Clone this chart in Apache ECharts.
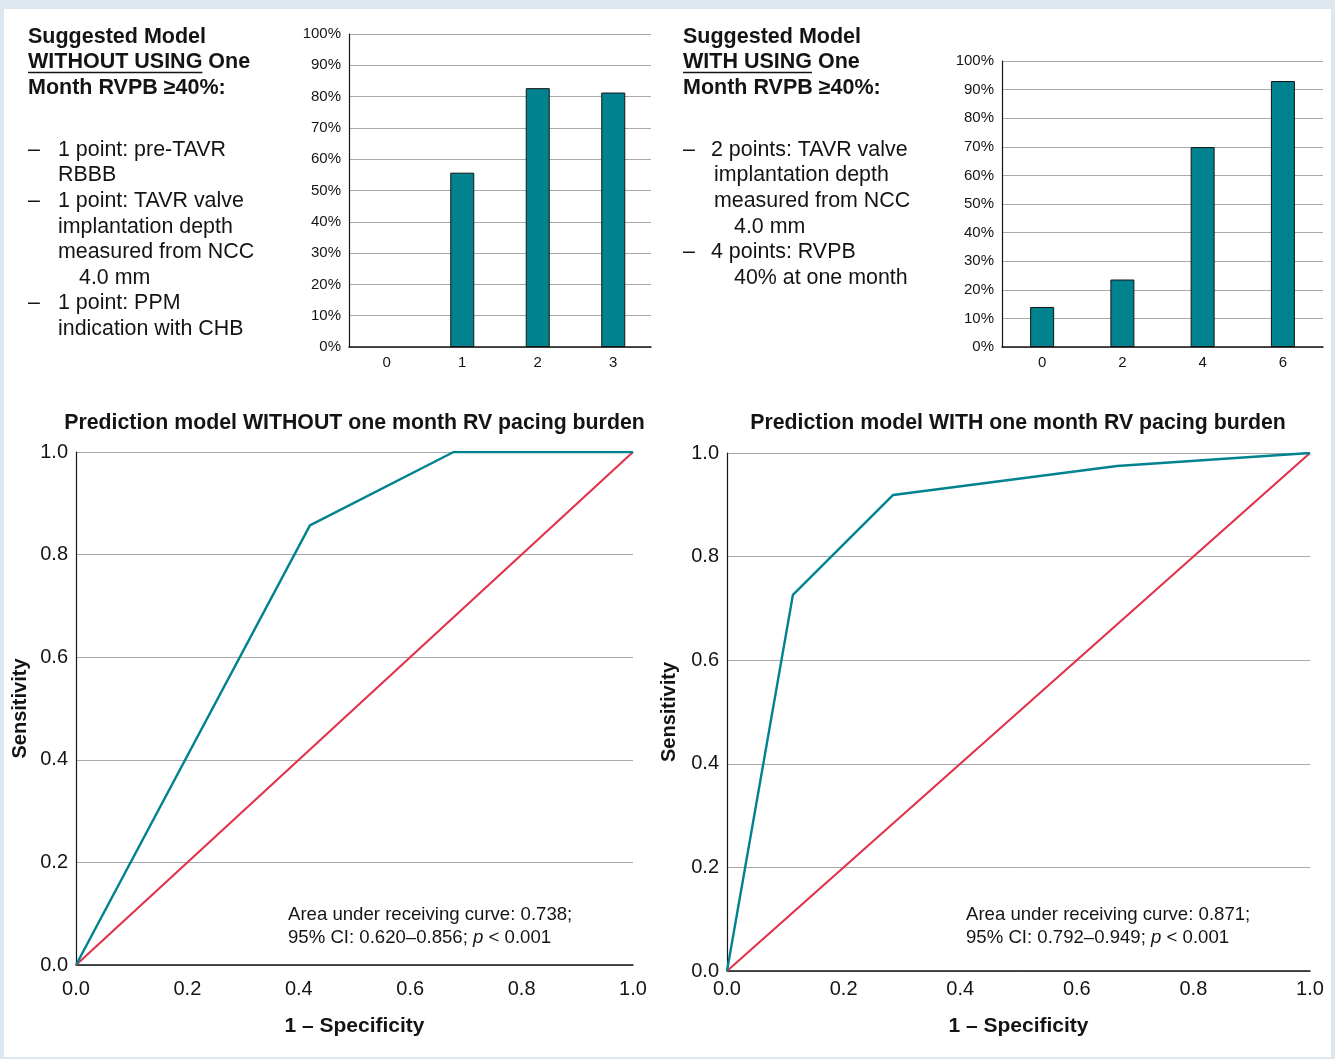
<!DOCTYPE html>
<html>
<head>
<meta charset="utf-8">
<script src="https://cdn.jsdelivr.net/npm/echarts@6/dist/echarts.min.js"></script>
<style>
html, body { margin: 0; padding: 0; background: #dde7f0; }
#panel { position: absolute; left: 4px; top: 9px; width: 1327px; height: 1048px; background: #fff; }
#main { position: absolute; left: 0; top: 0; width: 1335px; height: 1059px; }
</style>
</head>
<body>
<div id="panel"></div>
<div id="main"></div>
<script>
// score groups and share of patients with the outcome (%)
var scoreCats1 = ['0', '1', '2', '3'];
var riskPct1 = [0, 55.7, 82.7, 81.3];
var scoreCats2 = ['0', '2', '4', '6'];
var riskPct2 = [14.0, 23.6, 69.9, 93.0];

// ROC curves, [1 - specificity, sensitivity]
var rocWithout = [[0, 0], [0.42, 0.857], [0.678, 1], [1, 1]];
var rocWith = [[0, 0], [0.113, 0.726], [0.285, 0.919], [0.669, 0.975], [1, 1]];
var refLine = [[0, 0], [1, 1]];

var leftTitle = ['Suggested Model', 'WITHOUT USING', ' One', 'Month RVPB \u226540%:'];
var rightTitle = ['Suggested Model', 'WITH USING', ' One', 'Month RVPB \u226540%:'];

var FONT = '"Liberation Sans", Arial, sans-serif';
var INK = '#141414';
var TEAL = '#00838f';
var RED = '#e1344c';

var ctx = document.createElement('canvas').getContext('2d');
function textW(s, font) { ctx.font = font; return ctx.measureText(s).width; }

function txt(x, y, s, font, align) {
  return {
    type: 'text', x: x, y: y, z: 10,
    style: { text: s, font: font, fill: INK, align: align || 'left', verticalAlign: 'middle' }
  };
}

var boldF = 'bold 21.5px ' + FONT;
var regF = '21.4px ' + FONT;
var titleF = 'bold 21.3px ' + FONT;

function headerBlock(x, t) {
  var w = textW(t[1], boldF);
  return [
    txt(x, 37, t[0], boldF),
    txt(x, 62.5, t[1], boldF),
    txt(x + w, 62.5, t[2], boldF),
    txt(x, 88, t[3], boldF),
    { type: 'line', z: 10, shape: { x1: x, y1: 72.5, x2: x + w, y2: 72.5 }, style: { stroke: INK, lineWidth: 1.6 } }
  ];
}

var lh = 25.55;
var graphics = [].concat(
  headerBlock(28, leftTitle),
  headerBlock(683, rightTitle),
  [
    txt(28, 150, '\u2013', regF), txt(58, 150, '1 point: pre-TAVR', regF),
    txt(58, 150 + lh, 'RBBB', regF),
    txt(28, 150 + lh * 2, '\u2013', regF), txt(58, 150 + lh * 2, '1 point: TAVR valve', regF),
    txt(58, 150 + lh * 3, 'implantation depth', regF),
    txt(58, 150 + lh * 4, 'measured from NCC', regF),
    txt(79, 150 + lh * 5, '4.0 mm', regF),
    txt(28, 150 + lh * 6, '\u2013', regF), txt(58, 150 + lh * 6, '1 point: PPM', regF),
    txt(58, 150 + lh * 7, 'indication with CHB', regF),

    txt(683, 150, '\u2013', regF), txt(711, 150, '2 points: TAVR valve', regF),
    txt(714, 150 + lh, 'implantation depth', regF),
    txt(714, 150 + lh * 2, 'measured from NCC', regF),
    txt(734, 150 + lh * 3, '4.0 mm', regF),
    txt(683, 150 + lh * 4, '\u2013', regF), txt(711, 150 + lh * 4, '4 points: RVPB', regF),
    txt(734, 150 + lh * 5, '40% at one month', regF),

    txt(354.5, 423, 'Prediction model WITHOUT one month RV pacing burden', titleF, 'center'),
    txt(1018, 423, 'Prediction model WITH one month RV pacing burden', titleF, 'center')
  ]
);

function aucText(x, auc, ci) {
  var f = '18.6px ' + FONT;
  return [
    txt(x, 915, 'Area under receiving curve: ' + auc + ';', f),
    {
      type: 'text', x: x, y: 938, z: 10,
      style: {
        text: '{n|95% CI: ' + ci + '; }{i|p}{n| < 0.001}',
        verticalAlign: 'middle',
        rich: {
          n: { font: f, fill: INK },
          i: { font: 'italic ' + f, fill: INK }
        }
      }
    }
  ];
}
graphics = graphics.concat(aucText(288, '0.738', '0.620\u20130.856'), aucText(966, '0.871', '0.792\u20130.949'));

var grey = '#a9a9a9';

function barX(idx, cats) {
  return {
    type: 'category', gridIndex: idx, data: cats,
    axisLine: { lineStyle: { color: INK, width: 1.5 } },
    axisTick: { show: false },
    axisLabel: { color: INK, fontSize: 15, fontFamily: FONT, margin: 8 }
  };
}
function barY(idx) {
  return {
    type: 'value', gridIndex: idx, min: 0, max: 100, interval: 10,
    axisLine: { show: true, lineStyle: { color: INK, width: 1.2 } },
    axisTick: { show: false },
    splitLine: { lineStyle: { color: grey, width: 1 } },
    axisLabel: { color: INK, fontSize: 15, fontFamily: FONT, margin: 8, formatter: '{value}%' }
  };
}
function rocX(idx, margin, gap) {
  return {
    type: 'value', gridIndex: idx, min: 0, max: 1, interval: 0.2,
    name: '1 \u2013 Specificity', nameLocation: 'middle', nameGap: gap,
    nameTextStyle: { color: INK, fontSize: 21, fontWeight: 'bold', fontFamily: FONT },
    axisLine: { lineStyle: { color: INK, width: 1.5 } },
    axisTick: { show: false },
    splitLine: { show: false },
    axisLabel: { color: INK, fontSize: 20, fontFamily: FONT, margin: margin, formatter: function (v) { return v.toFixed(1); } }
  };
}
function rocY(idx, gap) {
  return {
    type: 'value', gridIndex: idx, min: 0, max: 1, interval: 0.2,
    name: 'Sensitivity', nameLocation: 'middle', nameGap: gap, nameRotate: 90,
    nameTextStyle: { color: INK, fontSize: 20, fontWeight: 'bold', fontFamily: FONT },
    axisLine: { show: true, lineStyle: { color: INK, width: 1.2 } },
    axisTick: { show: false },
    splitLine: { lineStyle: { color: grey, width: 1 } },
    axisLabel: { color: INK, fontSize: 20, fontFamily: FONT, margin: 8, formatter: function (v) { return v.toFixed(1); } }
  };
}

var barStyle = { color: TEAL, borderColor: INK, borderWidth: 1 };
function barData(vals) {
  // a zero bar has no visible outline in the reference
  return vals.map(function (v) { return v === 0 ? { value: v, itemStyle: { borderWidth: 0 } } : v; });
}

var chart = echarts.init(document.getElementById('main'));
chart.setOption({
  animation: false,
  backgroundColor: 'transparent',
  textStyle: { fontFamily: FONT },
  grid: [
    { left: 349, top: 34, width: 302, height: 313 },
    { left: 1002, top: 61, width: 321, height: 286 },
    { left: 76, top: 452, width: 557, height: 513 },
    { left: 727, top: 453, width: 583, height: 518 }
  ],
  xAxis: [barX(0, scoreCats1), barX(1, scoreCats2), rocX(2, 14, 51), rocX(3, 8, 45)],
  yAxis: [barY(0), barY(1), rocY(2, 46), rocY(3, 48)],
  graphic: graphics,
  series: [
    { type: 'bar', xAxisIndex: 0, yAxisIndex: 0, data: barData(riskPct1), barWidth: 24, itemStyle: barStyle },
    { type: 'bar', xAxisIndex: 1, yAxisIndex: 1, data: barData(riskPct2), barWidth: 24, itemStyle: barStyle },
    { type: 'line', xAxisIndex: 2, yAxisIndex: 2, data: refLine, showSymbol: false, lineStyle: { color: RED, width: 2.2 }, z: 3 },
    { type: 'line', xAxisIndex: 2, yAxisIndex: 2, data: rocWithout, showSymbol: false, lineStyle: { color: TEAL, width: 2.4 }, z: 4 },
    { type: 'line', xAxisIndex: 3, yAxisIndex: 3, data: refLine, showSymbol: false, lineStyle: { color: RED, width: 2.2 }, z: 3 },
    { type: 'line', xAxisIndex: 3, yAxisIndex: 3, data: rocWith, showSymbol: false, lineStyle: { color: TEAL, width: 2.4 }, z: 4 }
  ]
});
</script>
</body>
</html>
